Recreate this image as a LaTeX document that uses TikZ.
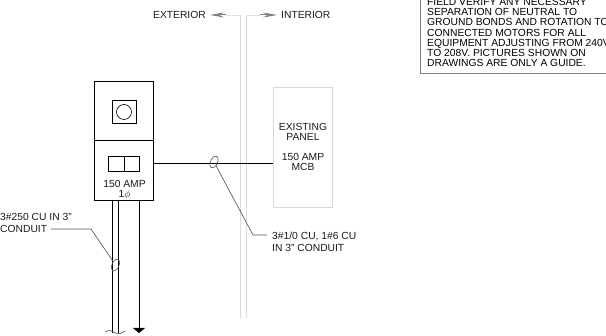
\documentclass[tikz,border=0pt]{standalone}
\usepackage{fontspec}
\setmainfont{Liberation Sans}
\usetikzlibrary{arrows.meta, positioning, calc, shapes.geometric}

\begin{document}
\begin{tikzpicture}[
	x=1pt, y=-1pt,
	every node/.style={font=\fontsize{10.3}{10.3}\selectfont, text=black!90, inner sep=0pt},
	wire/.style={line width=1pt, black},
	leader/.style={line width=0.6pt, black!70},
	wall/.style={line width=0.6pt, black!15},
	label/.style={align=left, anchor=west, font=\fontsize{10.3}{12}\selectfont},
	box/.style={draw, line width=1pt, black, inner sep=0pt},
	panel/.style={draw=black!15, line width=0.7pt, inner sep=0pt},
	side/.style={black!50, line width=1pt, -{Stealth[length=14pt, width=5pt]}}
	]
	\useasboundingbox (0, 0) rectangle (606, 336);
	
	% === NOTE ===
	\node[draw=black!50, line width=1.3pt, fill=white, minimum width=200pt, minimum height=84pt, anchor=south west] (note) at (420, 74) {};
	\node[anchor=north west, align=left, font=\fontsize{10.3}{10.25}\selectfont, text=black] (notetext) at (427, -2)
	{FIELD VERIFY ANY NECESSARY\\SEPARATION OF NEUTRAL TO\\GROUND BONDS AND ROTATION TO\\CONNECTED MOTORS FOR ALL\\EQUIPMENT ADJUSTING FROM 240V\\TO 208V.  PICTURES SHOWN ON\\DRAWINGS ARE ONLY A GUIDE.};
	
	% === WALL ===
	\coordinate (walla) at (240, 15);
	\coordinate (wallb) at (246, 15);
	\coordinate (wallc) at (240, 318);
	\coordinate (walld) at (246, 318);
	\draw[wall] (walla) -- (wallc);
	\draw[wall] (wallb) -- (walld);
	
	% === EXTERIOR / INTERIOR ===
	\node[anchor=east] (exterior) at (206, 15) {EXTERIOR};
	\node[anchor=west] (interior) at (281, 15) {INTERIOR};
	\coordinate (extend) at (226, 15);
	\coordinate (intend) at (260, 15);
	\draw[black!12, line width=0.5pt] (walla) -- (extend);
	\draw[black!12, line width=0.5pt] (wallb) -- (intend);
	\draw[side] (extend) -- ([xshift=4pt]exterior.east);
	\draw[side] (intend) -- ([xshift=-4pt]interior.west);
	
	% === METER AND DISCONNECT ===
	\node[box, minimum width=59pt, minimum height=59pt] (meter) at (124, 111.5) {};
	\node[box, minimum width=59pt, minimum height=60pt] (disconnect) at (124, 171) {};
	\node[box, minimum width=24pt, minimum height=23pt] (socket) at (124.5, 112) {};
	\node[draw, circle, line width=0.6pt, black, minimum size=15pt] (dial) at (124, 112) {};
	\node[box, minimum width=15.5pt, minimum height=15pt] (poleleft) at (116.5, 164) {};
	\node[box, minimum width=15.5pt, minimum height=15pt] (poleright) at (132, 164) {};
	\node (rating) at (124.5, 184) {150 AMP};
	\node (phase) at (124.5, 194.5) {1$\phi$};
	
	% === EXISTING PANEL ===
	\node[panel, minimum width=59pt, minimum height=120pt] (existing) at (302.5, 147) {};
	\node[align=center, font=\fontsize{10.3}{10}\selectfont] (existingtext) at (303, 132) {EXISTING\\PANEL};
	\node[align=center, font=\fontsize{10.3}{10}\selectfont] (mcbtext) at (303, 162) {150 AMP\\MCB};
	\draw[wire] (disconnect.east |- poleleft) -- (existing.west |- poleleft);
	
	% === CONDUITS ===
	\coordinate (conda) at (112, 201);
	\coordinate (condb) at (118, 201);
	\coordinate (condc) at (139, 201);
	\coordinate (condaend) at (112, 333);
	\coordinate (condbend) at (118, 333);
	\coordinate (gnd) at (139, 333);
	\draw[wire] (conda) -- (condaend);
	\draw[wire] (condb) -- (condbend);
	\draw[wire, -{Triangle[length=5pt, width=12pt]}] (condc) -- (gnd);
	\draw[line width=0.6pt, black!70] (105, 332) .. controls (109, 329) and (112, 331) .. (115, 333) .. controls (118, 335) and (122, 333) .. (125, 331);
	
	% === WIRE MARKS AND LEADERS ===
	\node[draw, ellipse, line width=0.6pt, black!70, minimum width=7pt, minimum height=13pt, rotate=-25] (markcond) at (115.5, 265) {};
	\node[draw, ellipse, line width=0.6pt, black!70, minimum width=7pt, minimum height=13pt, rotate=-25] (markfeed) at (214, 162) {};
	\node[label] (condlabel) at (0, 223) {3\#250 CU IN 3"\\ CONDUIT};
	\node[label] (feedlabel) at (272, 242) {3\#1/0 CU, 1\#6 CU\\IN 3" CONDUIT};
	\coordinate (condbend1) at (91, 229);
	\coordinate (feedbend1) at (253, 235);
	\draw[leader] (markcond) -- (condbend1) -- (51, 229);
	\draw[leader] (markfeed) -- (feedbend1) -- (267, 235);
	
\end{tikzpicture}
\end{document}
